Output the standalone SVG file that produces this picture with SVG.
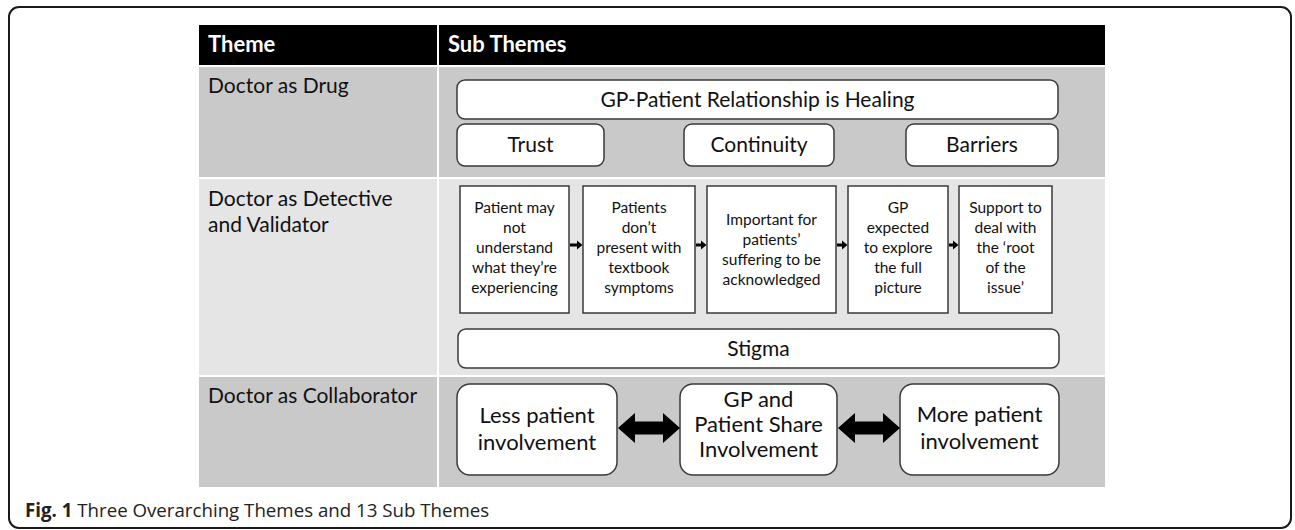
<svg xmlns="http://www.w3.org/2000/svg" width="1295" height="530" viewBox="0 0 1295 530">
<style>
.frame{fill:#fff;stroke:#1a1a1a;stroke-width:2}
.hdr{fill:#000}
.dark{fill:#c9c9c9}
.light{fill:#e5e5e5}
.box{fill:#fff;stroke:#3a3a3a;stroke-width:1.5}
.ht{font-family:Lato,"Liberation Sans",sans-serif;font-weight:bold;font-size:22px;fill:#fff}
.lab{font-family:Lato,"Liberation Sans",sans-serif;font-size:21px;fill:#111}
.t1{font-family:Lato,"Liberation Sans",sans-serif;font-size:21px;fill:#111;text-anchor:middle}
.t2{font-family:Lato,"Liberation Sans",sans-serif;font-size:15.5px;fill:#111;text-anchor:middle}
.t3{font-family:Lato,"Liberation Sans",sans-serif;font-size:22px;fill:#111;text-anchor:middle}
.cap{font-family:"Open Sans","Liberation Sans",sans-serif;font-size:18.7px;fill:#222}
.arr{fill:#000}
</style>
<rect class="frame" x="9" y="7" width="1282" height="521" rx="10"/>
<g id="table">
<rect class="hdr" x="199" y="25" width="238" height="40"/>
<rect class="hdr" x="439" y="25" width="666" height="40"/>
<text class="ht" x="208" y="52">Theme</text>
<text class="ht" x="448" y="52">Sub Themes</text>
<rect class="dark" x="199" y="67" width="238" height="110"/>
<rect class="dark" x="439" y="67" width="666" height="110"/>
<rect class="light" x="199" y="179" width="238" height="196"/>
<rect class="light" x="439" y="179" width="666" height="196"/>
<rect class="dark" x="199" y="377" width="238" height="110"/>
<rect class="dark" x="439" y="377" width="666" height="110"/>
</g>
<g id="theme-drug"><text class="lab" x="208" y="93">Doctor as Drug</text></g>
<g id="theme-detective"><text class="lab" x="208" y="206">Doctor as Detective</text><text class="lab" x="208" y="232">and Validator</text></g>
<g id="theme-collaborator"><text class="lab" x="208" y="403">Doctor as Collaborator</text></g>
<g id="n-healing"><rect class="box" x="457" y="80" width="601" height="39" rx="8"/><text class="t1" x="757.5" y="107">GP-Patient Relationship is Healing</text></g>
<g id="n-trust"><rect class="box" x="457" y="124" width="147" height="42" rx="8"/><text class="t1" x="530.5" y="152">Trust</text></g>
<g id="n-continuity"><rect class="box" x="684" y="124" width="150" height="42" rx="8"/><text class="t1" x="759" y="152">Continuity</text></g>
<g id="n-barriers"><rect class="box" x="906" y="124" width="152" height="42" rx="8"/><text class="t1" x="982" y="152">Barriers</text></g>
<g id="n-understand"><rect class="box" x="460" y="186" width="109" height="127"/><text class="t2" x="514.5" y="213">Patient may</text><text class="t2" x="514.5" y="233">not</text><text class="t2" x="514.5" y="253">understand</text><text class="t2" x="514.5" y="273">what they’re</text><text class="t2" x="514.5" y="293">experiencing</text></g>
<g id="n-textbook"><rect class="box" x="583" y="186" width="112" height="127"/><text class="t2" x="639" y="213">Patients</text><text class="t2" x="639" y="233">don’t</text><text class="t2" x="639" y="253">present with</text><text class="t2" x="639" y="273">textbook</text><text class="t2" x="639" y="293">symptoms</text></g>
<g id="n-acknowledged"><rect class="box" x="707" y="186" width="129" height="127"/><text class="t2" x="771.5" y="225">Important for</text><text class="t2" x="771.5" y="245">patients’</text><text class="t2" x="771.5" y="265">suffering to be</text><text class="t2" x="771.5" y="285">acknowledged</text></g>
<g id="n-explore"><rect class="box" x="848" y="186" width="100" height="127"/><text class="t2" x="898" y="213">GP</text><text class="t2" x="898" y="233">expected</text><text class="t2" x="898" y="253">to explore</text><text class="t2" x="898" y="273">the full</text><text class="t2" x="898" y="293">picture</text></g>
<g id="n-root"><rect class="box" x="959" y="186" width="93" height="127"/><text class="t2" x="1005.5" y="213">Support to</text><text class="t2" x="1005.5" y="233">deal with</text><text class="t2" x="1005.5" y="253">the ‘root</text><text class="t2" x="1005.5" y="273">of the</text><text class="t2" x="1005.5" y="293">issue’</text></g>
<g id="n-stigma"><rect class="box" x="458" y="329" width="601" height="39" rx="8"/><text class="t1" x="758.5" y="356">Stigma</text></g>
<g id="n-less"><rect class="box" x="457" y="384" width="160" height="91" rx="13"/><text class="t3" x="537" y="423">Less patient</text><text class="t3" x="537" y="450">involvement</text></g>
<g id="n-share"><rect class="box" x="680" y="384" width="157" height="91" rx="13"/><text class="t3" x="758.5" y="407">GP and</text><text class="t3" x="758.5" y="432">Patient Share</text><text class="t3" x="758.5" y="457">Involvement</text></g>
<g id="n-more"><rect class="box" x="900" y="384" width="159" height="91" rx="13"/><text class="t3" x="979.5" y="422">More patient</text><text class="t3" x="979.5" y="449">involvement</text></g>
<g id="connectors">
<polygon class="arr" points="570,243.5 577,243.5 577,240.5 582.5,245 577,249.5 577,246.5 570,246.5"/>
<polygon class="arr" points="696,243.5 701,243.5 701,240.5 706.5,245 701,249.5 701,246.5 696,246.5"/>
<polygon class="arr" points="837,243.5 842,243.5 842,240.5 847.5,245 842,249.5 842,246.5 837,246.5"/>
<polygon class="arr" points="949,243.5 953,243.5 953,240.5 958.5,245 953,249.5 953,246.5 949,246.5"/>
<polygon class="arr" points="618,428 635,413 635,421.5 663,421.5 663,413 680,428 663,443 663,434.5 635,434.5 635,443"/>
<polygon class="arr" points="838,428 855,413 855,421.5 883,421.5 883,413 900,428 883,443 883,434.5 855,434.5 855,443"/>
</g>
<g id="caption"><text class="cap" x="25" y="517"><tspan font-weight="bold">Fig. 1</tspan> Three Overarching Themes and 13 Sub Themes</text></g>
</svg>
